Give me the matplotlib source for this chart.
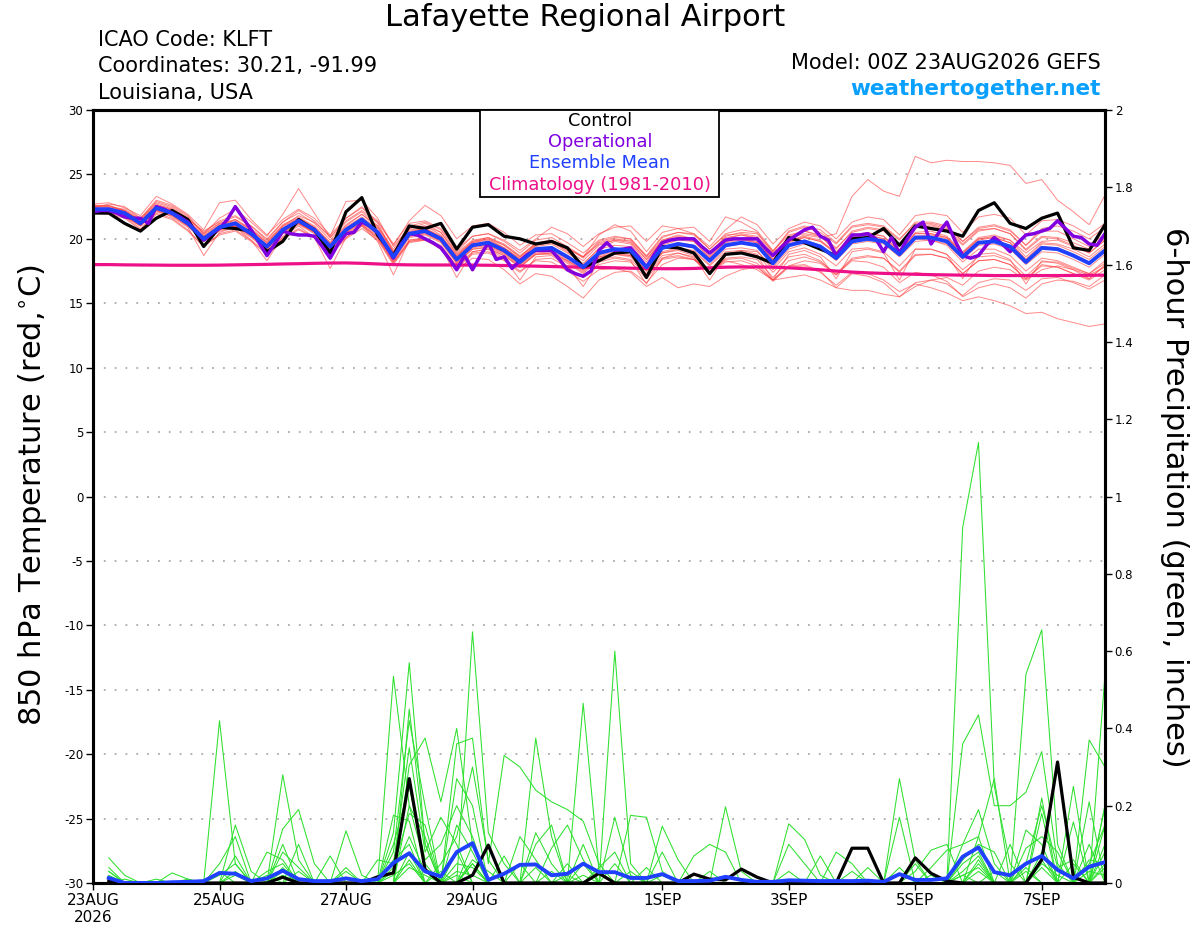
import numpy as np
import matplotlib
matplotlib.use('Agg')
import matplotlib.pyplot as plt
from matplotlib.patches import Rectangle

plt.rcParams['font.family'] = ['DejaVu Sans']
plt.rcParams['mathtext.fontset'] = 'dejavusans'

# ---------------- data ----------------
title = "Lafayette Regional Airport"
info_left = ["ICAO Code: KLFT", "Coordinates: 30.21, -91.99", "Louisiana, USA"]
model_text = "Model: 00Z 23AUG2026 GEFS"
site_text = "weathertogether.net"
legend_labels = ["Control", "Operational", "Ensemble Mean", "Climatology (1981-2010)"]

date_labels = ['23AUG\n2026', '25AUG', '27AUG', '29AUG', '1SEP', '3SEP', '5SEP', '7SEP']
date_days = [0, 2, 4, 6, 9, 11, 13, 15]
temp_ticks = [-30, -25, -20, -15, -10, -5, 0, 5, 10, 15, 20, 25, 30]
precip_ticks = [0, 0.2, 0.4, 0.6, 0.8, 1, 1.2, 1.4, 1.6, 1.8, 2]
precip_tick_labels = ['0', '0.2', '0.4', '0.6', '0.8', '1', '1.2', '1.4', '1.6', '1.8', '2']

# 850 hPa temperature, 6-hourly from 00Z 23AUG (65 values)
temp_control = [22.0,22.0,21.2,20.6,21.6,22.2,21.5,19.4,20.9,20.8,
                20.6,19.0,19.8,21.5,20.7,18.9,22.1,23.2,20.3,18.7,
                21.0,20.8,21.2,19.2,20.9,21.1,20.2,20.0,19.6,19.8,
                19.3,17.8,18.3,18.9,19.0,17.0,19.4,19.3,18.9,17.3,
                18.8,18.9,18.6,18.1,20.1,19.7,19.2,18.7,20.0,20.1,
                20.8,19.5,21.0,20.8,20.6,20.2,22.2,22.8,21.2,20.8,
                21.6,22.0,19.3,19.1,21.1]

temp_mean = [22.3,22.3,22.0,21.2,22.4,22.0,21.2,20.0,20.9,21.2,
             20.4,19.4,20.7,21.4,20.7,19.4,20.7,21.5,20.5,18.6,
             20.4,20.6,20.0,18.4,19.5,19.7,19.1,18.2,19.2,19.3,
             18.6,17.8,18.9,19.2,19.1,17.8,19.3,19.6,19.4,18.3,
             19.5,19.7,19.5,18.1,19.5,19.8,19.4,18.5,19.8,20.0,
             19.8,18.8,20.1,20.1,19.8,18.6,19.7,19.8,19.4,18.2,
             19.3,19.2,18.7,18.1,19.1]

temp_clim = [18.0,18.0,17.98,17.97,17.96,17.95,17.95,17.95,17.96,17.98,
             18.0,18.02,18.05,18.07,18.1,18.12,18.13,18.1,18.05,18.0,
             17.98,17.97,17.97,17.97,17.96,17.95,17.93,17.9,17.88,17.85,
             17.82,17.8,17.78,17.75,17.72,17.7,17.68,17.68,17.7,17.75,
             17.8,17.82,17.82,17.8,17.75,17.68,17.6,17.5,17.42,17.36,
             17.32,17.28,17.25,17.22,17.2,17.18,17.17,17.15,17.15,17.15,
             17.15,17.15,17.16,17.17,17.18]

# operational run, 3-hourly (129 values)
temp_oper = [22.1,22.2,22.2,22.0,21.7,21.6,21.6,21.2,22.5,22.3,
             22.0,21.7,21.3,20.6,19.9,20.4,20.8,21.5,22.5,21.6,
             20.7,19.7,18.7,19.6,20.6,20.4,20.3,20.3,20.2,19.4,
             18.5,19.6,20.4,20.5,21.3,21.0,20.5,19.5,18.5,19.6,
             20.4,20.3,20.0,19.7,19.3,18.5,17.6,18.7,17.6,18.7,
             19.7,18.4,18.6,17.7,18.3,18.8,19.1,19.1,19.1,18.4,
             17.6,17.3,17.1,17.5,19.1,19.7,19.1,19.2,19.3,18.6,
             17.8,18.8,19.7,19.9,20.0,20.0,20.0,19.4,18.9,19.4,
             19.9,20.0,20.0,20.0,20.0,19.3,18.7,19.3,19.9,20.3,
             20.7,20.9,20.2,19.9,18.7,19.5,20.3,20.3,20.4,20.0,
             19.0,20.1,18.9,20.0,20.9,21.3,19.6,20.5,21.3,19.9,
             18.7,18.5,18.7,19.5,20.1,19.6,19.0,19.7,20.3,20.4,
             20.6,20.8,21.4,20.8,20.2,20.1,19.6,19.5,20.4]

temp_members = [
    [22.6,22.5,22.3,21.6,22.8,22.4,21.6,20.5,21.4,21.8,21.0,19.9,21.3,22.0,21.2,19.9,21.3,22.1,21.0,19.2,21.0,21.3,20.7,19.0,20.2,20.4,19.8,18.9,19.9,20.1,19.4,18.6,19.8,20.1,20.0,18.7,20.2,20.5,20.3,19.2,20.4,20.7,20.5,19.0,20.5,20.9,20.5,19.6,20.9,21.1,20.9,19.9,21.3,21.3,21.0,19.8,20.9,21.1,20.7,19.5,20.6,20.6,20.0,19.4,20.4],
    [22.0,22.1,21.7,20.8,22.0,21.6,20.7,19.4,20.3,20.6,19.8,18.8,20.0,20.7,20.1,18.8,20.0,20.8,19.9,18.0,19.7,19.9,19.3,17.7,18.8,18.9,18.3,17.4,18.4,18.5,17.8,17.0,18.0,18.3,18.2,16.9,18.4,18.6,18.4,17.3,18.5,18.6,18.4,17.0,18.3,18.6,18.2,17.3,18.5,18.7,18.5,17.5,18.8,18.8,18.5,17.3,18.3,18.4,18.0,16.9,18.0,17.8,17.3,16.8,17.6],
    [22.4,22.7,22.5,21.6,23.0,22.6,21.8,20.4,21.6,22.3,21.3,20.2,21.9,23.9,22.0,20.1,21.6,22.5,21.2,19.0,20.8,21.2,20.5,18.8,19.8,20.0,19.3,18.5,19.5,19.8,19.0,18.0,19.3,19.8,19.6,18.2,19.9,20.3,20.0,18.7,20.0,20.3,20.0,18.4,19.8,20.2,19.9,18.9,20.3,20.5,20.2,19.0,20.5,20.6,20.2,19.0,20.1,20.3,19.9,18.6,19.7,19.6,19.2,18.6,19.6],
    [22.1,22.2,21.8,21.0,22.2,21.7,20.9,18.7,20.5,20.9,19.9,18.3,20.2,21.0,20.1,17.7,20.1,21.0,19.8,17.2,19.9,20.1,19.4,17.0,19.0,19.2,18.5,16.8,18.6,18.7,17.9,16.3,18.2,18.5,18.3,16.5,18.5,18.9,18.6,16.8,18.7,19.0,18.7,16.8,18.8,19.1,18.6,16.9,19.0,19.2,18.9,16.8,19.2,19.2,18.8,16.9,18.8,18.9,18.4,16.5,18.3,18.1,17.6,16.9,18.0],
    [22.5,22.4,22.1,21.4,22.6,22.2,21.4,20.2,21.0,21.5,20.7,19.7,21.0,21.8,21.3,20.2,22.9,23.0,21.6,19.4,20.9,21.0,20.3,18.7,19.7,19.9,19.3,18.4,19.4,19.6,18.9,18.1,19.2,19.5,19.4,18.0,19.5,19.9,19.8,18.5,19.8,20.0,19.8,18.3,19.7,20.1,19.8,18.8,20.1,20.3,20.0,19.0,20.4,20.4,20.1,18.8,19.9,20.1,19.7,18.4,19.6,19.5,19.0,18.4,19.4],
    [22.2,22.3,22.0,21.3,22.3,22.0,21.3,20.1,20.8,21.0,20.3,19.5,20.6,21.2,20.6,19.5,20.6,21.3,20.4,18.8,20.2,20.4,19.9,18.6,19.4,19.6,19.0,18.3,19.1,19.2,18.7,17.9,18.8,19.1,19.0,17.9,19.2,19.5,19.3,18.4,19.4,19.6,19.5,18.6,19.8,20.3,20.1,20.4,23.3,24.6,23.7,23.3,26.4,25.9,26.1,26.0,26.0,25.9,25.7,24.3,24.6,23.0,22.1,21.1,23.4],
    [22.3,22.2,21.9,21.1,22.3,21.9,21.0,19.8,20.7,21.0,20.2,19.2,20.5,21.2,20.5,19.2,20.5,21.2,20.2,18.3,20.1,20.3,19.7,18.1,19.2,19.3,18.7,17.8,18.8,18.8,18.1,17.3,18.4,18.6,18.4,17.2,18.5,18.7,18.4,17.3,18.2,18.3,17.9,16.7,17.8,17.9,17.4,16.4,17.4,17.3,16.8,15.9,16.5,16.2,15.8,15.2,15.5,15.2,14.8,14.2,14.3,13.8,13.5,13.2,13.4],
    [22.4,22.3,22.0,21.2,22.3,21.9,21.1,19.9,20.8,21.1,20.3,19.3,20.6,21.2,20.5,19.2,20.4,21.1,20.1,18.2,19.8,19.9,19.2,17.6,18.5,18.4,17.6,16.5,17.3,17.1,16.3,15.4,16.8,17.4,17.5,16.6,18.0,18.5,18.4,17.6,18.8,19.1,19.0,17.8,19.2,19.6,19.3,18.3,19.6,19.8,19.6,18.6,19.8,19.9,19.6,18.4,19.5,19.6,19.2,18.0,19.0,18.9,18.4,17.8,18.8],
    [22.5,22.6,22.2,21.5,22.7,22.3,21.5,20.6,21.3,21.7,21.0,20.0,21.3,22.2,21.4,20.1,21.4,22.2,21.3,19.5,21.4,22.6,21.8,20.0,21.0,21.2,20.5,19.5,20.3,20.4,19.7,18.9,19.9,20.2,20.0,18.6,19.9,20.2,20.0,18.9,20.1,20.3,20.1,18.7,20.2,20.6,20.3,19.3,20.5,20.8,20.6,19.6,20.9,21.0,20.7,19.5,20.6,20.8,20.4,19.1,20.1,20.0,19.5,18.9,19.9],
    [22.2,22.0,21.7,21.0,22.1,21.8,21.0,19.8,20.6,20.9,20.1,19.1,20.4,21.1,20.4,19.1,20.3,21.1,20.1,18.2,19.9,20.0,19.4,17.8,18.9,19.0,18.4,17.5,18.3,18.2,17.5,16.7,17.6,17.7,17.4,16.3,17.0,16.2,16.5,16.3,17.1,17.6,17.8,16.8,17.9,18.3,18.1,17.2,18.4,18.6,18.5,17.4,18.7,18.8,18.5,17.3,18.3,18.4,18.0,16.9,17.9,17.8,17.3,16.9,17.9],
    [22.3,22.4,22.1,21.3,22.5,22.1,21.3,20.1,21.0,21.3,20.5,19.5,20.8,21.5,20.8,19.5,20.8,21.6,20.6,18.7,20.5,20.7,20.1,18.5,19.6,19.8,19.3,18.4,19.5,19.7,19.1,18.3,19.5,19.9,19.9,18.6,20.1,20.5,20.4,19.4,20.7,21.7,21.1,19.6,20.8,21.3,21.0,20.0,21.3,21.7,21.5,20.3,21.8,22.0,21.8,20.5,21.7,21.9,21.6,20.3,21.4,21.5,21.0,20.3,21.2],
    [22.4,22.3,21.9,21.2,22.4,22.0,21.2,20.0,20.9,21.2,20.4,19.3,20.6,21.3,20.6,19.3,20.6,21.4,20.4,18.5,20.3,20.5,19.9,18.3,19.4,19.5,18.9,18.0,18.9,19.0,18.3,17.5,18.6,18.8,18.6,17.3,18.7,18.9,18.5,17.4,18.4,18.5,18.1,16.8,17.9,18.0,17.5,16.2,17.3,17.1,16.6,15.5,16.6,16.8,16.5,15.6,16.6,16.9,16.8,16.0,16.9,17.0,16.6,16.1,16.8],
    [22.1,22.4,22.2,21.4,22.6,22.3,21.5,20.3,21.2,21.5,20.8,19.8,21.1,21.7,21.0,19.7,21.0,21.9,21.0,19.0,20.7,20.8,20.2,18.6,19.7,20.0,19.5,18.6,19.7,19.9,19.3,18.5,19.7,20.0,19.8,18.4,19.8,20.1,19.8,18.6,19.9,20.0,19.7,18.2,19.6,19.9,19.5,18.6,19.9,20.1,19.8,18.7,20.0,19.9,19.5,18.2,19.2,19.2,18.7,17.5,18.5,18.3,17.8,17.3,18.1],
    [22.7,22.8,22.4,21.8,23.3,22.7,21.9,20.7,22.8,23.0,21.5,20.3,21.5,22.3,21.6,20.3,21.6,22.4,21.4,19.6,21.2,21.4,20.8,19.2,20.2,20.4,19.9,19.1,20.0,20.9,20.4,19.4,20.4,20.9,21.0,19.8,21.0,20.8,20.4,19.2,20.3,20.4,20.2,18.9,20.1,20.4,20.2,19.2,20.6,20.9,20.7,19.6,21.0,21.1,20.8,19.6,20.7,20.8,20.4,19.2,20.2,20.1,19.7,19.2,20.0],
    [22.0,21.9,21.6,20.7,21.9,21.5,20.6,19.4,20.4,20.7,19.9,18.9,20.1,20.8,20.1,18.9,20.1,21.0,20.0,18.1,19.8,20.0,19.5,17.9,19.0,19.2,18.7,17.8,18.8,18.9,18.2,17.4,18.5,18.8,18.7,17.5,19.0,19.3,19.1,18.0,19.2,19.3,19.1,17.6,19.0,19.3,18.8,17.9,19.2,19.3,19.0,17.9,19.2,19.2,18.8,17.6,18.6,18.7,18.3,17.1,18.2,18.2,17.7,17.3,18.3],
    [22.5,22.5,22.2,21.3,22.5,22.2,21.4,20.2,21.1,21.3,20.6,19.6,20.9,21.6,20.9,19.6,20.9,21.7,20.8,18.9,20.6,20.8,20.2,18.7,19.8,20.1,19.6,18.7,19.6,19.8,19.2,18.6,20.3,21.1,20.6,19.0,20.5,20.8,20.9,19.8,21.7,21.3,20.6,19.1,20.3,20.6,20.2,19.0,20.2,20.3,20.0,18.8,20.2,20.3,20.0,18.9,20.0,20.2,19.9,18.9,19.8,19.9,19.4,18.9,19.9],
    [22.2,22.2,21.9,21.1,22.2,21.8,21.0,19.8,20.7,21.0,20.2,19.2,20.5,21.2,20.5,19.2,20.5,21.3,20.3,18.4,20.2,20.4,19.8,18.2,19.3,19.5,18.9,18.0,19.0,19.1,18.4,17.6,18.7,19.0,18.8,17.5,18.9,19.1,18.7,17.4,18.3,18.0,17.6,16.8,17.0,17.2,16.8,16.2,16.0,16.0,15.7,15.5,16.3,16.8,17.0,16.4,17.5,17.8,17.6,16.8,17.6,17.9,17.6,17.2,17.8],
    [22.6,22.6,22.1,21.5,22.9,22.5,21.7,20.4,21.2,21.4,20.7,19.7,21.0,21.6,20.9,19.7,21.1,21.9,20.9,19.0,20.8,21.0,20.5,18.9,19.9,20.1,19.5,18.6,19.6,19.8,19.3,18.6,19.6,19.9,19.7,18.4,19.8,20.1,19.9,18.9,20.2,20.5,20.4,19.0,20.6,21.0,20.7,19.7,21.0,21.2,21.0,20.0,21.2,21.2,20.9,19.8,20.8,21.0,20.6,19.5,20.8,21.0,20.6,20.0,20.9],
    [22.3,22.1,21.8,21.0,22.2,21.9,21.1,19.9,20.9,21.3,20.5,19.4,20.8,21.5,20.8,19.4,20.8,21.5,20.5,18.6,20.3,20.5,19.8,18.1,19.2,19.4,18.8,17.9,18.8,18.9,18.3,17.6,18.6,18.9,18.7,17.6,18.9,19.2,19.0,17.9,19.0,19.1,18.8,17.4,18.6,18.8,18.3,17.2,18.3,18.2,17.8,16.6,17.4,17.2,16.7,15.5,16.2,16.5,16.2,15.4,16.5,16.8,16.7,16.3,17.2],
    [22.4,22.2,22.0,21.3,22.4,22.1,21.3,20.0,20.9,21.0,20.3,19.3,20.6,21.3,20.6,19.4,20.6,21.4,20.5,18.7,20.5,20.8,20.1,18.5,19.5,19.6,19.0,18.1,19.1,19.2,18.5,17.7,18.8,19.1,19.0,17.8,19.3,19.7,19.5,18.5,19.7,19.9,19.7,18.4,19.8,20.1,19.8,18.9,20.2,20.4,20.2,19.1,20.4,20.4,20.1,18.9,20.0,20.1,19.7,18.4,19.4,19.3,18.8,18.2,19.2],
]

# 6-hour precipitation (inches), valid 06Z 23AUG onward (64 values)
precip_control = [0.005,0,0,0,0,0,0,0,
                  0,0,0,0.015,0,0,0,0,
                  0,0.016,0.026,0.27,0.035,0,0,0.02,
                  0.098,0,0,0,0,0,0,0.025,
                  0,0,0,0,0,0.023,0.01,0.008,
                  0.036,0.015,0,0,0,0,0,0.09,
                  0.09,0,0,0.065,0.025,0.005,0,0,
                  0,0,0,0.06,0.313,0.015,0,0]

precip_mean = [0.013,0,0,0,0.002,0.003,0.005,0.026,
               0.024,0.005,0.012,0.032,0.01,0.005,0.005,0.012,
               0.005,0.01,0.052,0.077,0.03,0.017,0.08,0.103,
               0.008,0.024,0.047,0.048,0.02,0.024,0.05,0.028,
               0.028,0.013,0.013,0.023,0.005,0.005,0.006,0.016,
               0.008,0.003,0.003,0.007,0.006,0.005,0.005,0.005,
               0.006,0.003,0.023,0.008,0.008,0.012,0.068,0.092,
               0.028,0.02,0.05,0.07,0.034,0.012,0.042,0.054]

precip_members = [
    [0.065,0.02,0,0,0,0,0,0.42, 0.05,0,0,0,0,0,0,0, 0,0,0.13,0.57,0.1,0,0,0.05, 0,0,0,0,0,0,0,0,
     0.6,0.05,0,0,0,0,0,0, 0,0,0,0,0,0,0,0, 0,0,0,0,0,0,0.1,0.19, 0.05,0,0,0,0,0,0.05,0.15],
    [0.03,0,0,0,0,0,0,0, 0.15,0.03,0,0.28,0.06,0,0,0, 0,0,0.535,0.2,0.05,0,0,0.65, 0.13,0.05,0,0,0,0,0.465,0.03,
     0,0,0,0,0,0,0,0, 0,0,0,0,0,0,0,0, 0,0,0,0,0,0,0.92,1.14, 0.25,0.05,0,0,0,0,0,0.2],
    [0.04,0,0,0,0.026,0.01,0,0, 0,0,0,0.14,0.19,0.05,0,0, 0,0,0,0.305,0.375,0.21,0.4,0.1, 0,0,0,0.375,0.12,0,0,0,
     0,0.175,0.17,0.03,0,0,0,0, 0,0,0,0,0,0,0,0, 0,0,0,0,0,0,0,0, 0,0,0.54,0.655,0.1,0,0,0.54],
    [0.02,0,0,0,0,0,0,0, 0,0,0.08,0.06,0,0,0,0.135, 0.02,0,0,0.45,0.1,0,0.36,0.375, 0.05,0.33,0.3,0.24,0.21,0.19,0.16,0.05,
     0,0,0,0,0,0,0,0, 0,0,0,0,0,0,0,0, 0,0,0,0,0,0,0.36,0.435, 0.2,0.2,0.235,0.34,0.05,0,0.37,0.3],
    [0,0,0,0,0,0,0,0.05, 0.12,0,0,0,0.1,0,0.07,0, 0,0,0.175,0.16,0,0,0.27,0.2, 0,0,0,0,0,0,0,0,
     0,0,0,0.147,0.06,0,0,0.197, 0.03,0,0,0,0,0,0,0, 0,0,0.27,0.06,0,0,0,0, 0,0,0,0.22,0,0.158,0,0.1],
    [0.01,0,0,0,0,0,0,0.03, 0,0,0,0.1,0,0,0,0, 0,0.06,0.05,0.35,0.08,0.17,0.1,0, 0,0,0,0.1,0.15,0,0,0,
     0.17,0.02,0,0,0,0,0,0, 0,0,0,0.153,0.113,0.02,0,0, 0,0,0,0,0,0,0,0.12, 0.27,0,0,0.18,0,0,0.21,0],
    [0,0,0,0.01,0,0,0,0, 0.07,0,0.02,0,0,0,0,0.04, 0,0,0.08,0.42,0.2,0,0.15,0.08, 0,0,0.12,0.06,0,0,0.05,0,
     0,0,0,0,0,0.07,0.1,0.08, 0,0,0,0,0,0,0,0, 0,0,0.17,0,0.04,0.085,0.1,0.12, 0,0,0.137,0.1,0,0.25,0,0.2],
    [0.015,0,0,0,0,0,0,0, 0,0,0,0.08,0.04,0,0,0, 0,0,0.1,0.25,0.06,0.1,0.2,0.12, 0,0,0,0,0.09,0.15,0.06,0,
     0,0,0,0.08,0,0,0,0, 0,0,0,0.1,0.05,0,0.08,0.05, 0,0,0,0,0,0,0.05,0.08, 0,0,0.09,0.12,0.08,0,0,0.15],
    [0,0.01,0,0,0,0,0,0.02, 0.05,0,0,0.04,0,0,0,0.03, 0,0,0,0.2,0.12,0,0,0.06, 0.03,0,0,0,0,0.05,0,0.04,
     0.08,0,0,0,0,0,0,0, 0,0,0,0,0,0.07,0,0, 0.04,0,0,0.03,0.085,0.1,0,0.06, 0,0.1,0,0.06,0,0,0.1,0],
    [0.03,0,0,0,0,0,0,0, 0,0,0.03,0.05,0,0,0,0, 0,0,0.06,0.1,0,0.05,0.12,0.3, 0.06,0,0,0.13,0.05,0,0,0,
     0,0,0.04,0,0,0,0.03,0, 0,0,0,0,0,0,0,0, 0,0,0.04,0,0,0,0.06,0.1, 0.08,0,0.05,0.2,0.04,0.06,0,0.08],
    [0,0,0,0,0,0,0,0, 0.03,0,0,0,0.03,0,0,0, 0,0,0.04,0.18,0.15,0,0.08,0, 0,0,0.05,0,0,0,0.1,0,
     0.05,0,0,0,0,0,0,0, 0,0,0,0,0,0,0,0.03, 0,0,0,0,0,0,0.03,0.07, 0,0,0,0.08,0,0,0.06,0.05],
    [0.01,0,0,0,0,0,0,0, 0,0,0,0.02,0,0,0,0, 0,0,0,0.08,0,0.03,0,0.1, 0,0.07,0,0,0.03,0,0,0,
     0,0.03,0,0,0,0,0,0, 0,0,0,0,0,0,0,0, 0,0,0,0.05,0,0,0,0.05, 0,0,0.04,0,0,0.05,0,0.04],
    [0,0,0,0,0,0.01,0,0, 0.02,0,0,0,0,0,0,0, 0,0,0.03,0.12,0.03,0,0.05,0.04, 0,0,0,0,0,0.02,0,0,
     0,0,0,0,0,0,0,0, 0,0,0,0.03,0,0,0,0, 0,0,0,0,0,0,0.02,0.04, 0,0,0,0.05,0.02,0,0,0],
    [0,0,0,0,0,0,0,0, 0,0,0,0.03,0,0,0,0, 0,0,0,0.06,0,0,0.03,0.02, 0,0,0,0.04,0,0,0,0,
     0,0,0,0.02,0,0,0,0, 0,0,0,0,0,0,0,0, 0,0,0,0,0.02,0,0,0, 0.03,0,0,0,0,0,0.03,0.02],
    [0.005,0,0,0,0,0,0,0, 0,0,0,0,0,0,0,0, 0,0,0,0.04,0.02,0,0,0.05, 0,0,0,0,0,0,0.02,0,
     0,0,0,0,0,0,0,0, 0,0,0,0,0,0,0,0, 0,0,0,0,0,0,0,0.03, 0,0,0,0.04,0,0,0,0],
    [0,0,0,0,0,0,0,0, 0,0,0,0,0,0,0,0.01, 0,0,0.02,0.05,0,0,0.02,0, 0,0,0,0,0,0,0,0,
     0,0,0,0,0,0,0,0, 0,0,0,0,0,0,0,0, 0,0,0,0,0,0,0.02,0, 0,0,0.03,0,0,0,0,0.05],
]

# ---------------- colours ----------------
C_MEMBER_T = '#ff4040'
C_MEMBER_P = '#2ee02e'
C_CONTROL = '#000000'
C_OPER = '#8000e0'
C_MEAN = '#2040ff'
C_CLIM = '#ee1088'
C_SITE = '#0aa0ff'

# ---------------- figure ----------------
W, H = 1200, 927
fig = plt.figure(figsize=(W / 100, H / 100), dpi=100)
ax = fig.add_axes([93 / W, 1 - 883 / H, (1105 - 93) / W, (883 - 110) / H])
ax2 = ax.twinx()

def tt(n, step):
    return np.arange(n) * step

# temperature members and lines
for m in temp_members:
    ax.plot(tt(len(m), 0.25), m, color=C_MEMBER_T, lw=0.7, alpha=0.62, zorder=2)
ax.plot(tt(len(temp_clim), 0.25), temp_clim, color=C_CLIM, lw=2.3, zorder=3)
ax.plot(tt(len(temp_control), 0.25), temp_control, color=C_CONTROL, lw=2.3, zorder=4)
ax.plot(tt(len(temp_oper), 0.125), temp_oper, color=C_OPER, lw=2.5, zorder=5)
ax.plot(tt(len(temp_mean), 0.25), temp_mean, color=C_MEAN, lw=2.8, zorder=6)

# precipitation
for m in precip_members:
    ax2.plot(0.25 + tt(len(m), 0.25), m, color=C_MEMBER_P, lw=0.75, zorder=2)
ax2.plot(0.25 + tt(len(precip_control), 0.25), precip_control, color=C_CONTROL, lw=2.3, zorder=4)
ax2.plot(0.25 + tt(len(precip_mean), 0.25), precip_mean, color=C_MEAN, lw=2.8, zorder=5)

ax.set_xlim(0, 16)
ax.set_ylim(-30, 30)
ax2.set_ylim(0, 2)

ax.set_xticks(date_days)
ax.set_xticklabels(date_labels, fontsize=11, linespacing=1.15)
ax.set_yticks(temp_ticks)
ax.set_yticklabels([str(v) for v in temp_ticks], fontsize=8.5)
ax2.set_yticks(precip_ticks)
ax2.set_yticklabels(precip_tick_labels, fontsize=8.5)

for a in (ax, ax2):
    for s in a.spines.values():
        s.set_linewidth(2.2)
        s.set_color('black')
ax.tick_params(axis='both', direction='out', length=5, width=1, pad=2)
ax2.tick_params(axis='y', direction='out', length=5, width=1, pad=2)

# dotted grid at temperature ticks
for v in temp_ticks[1:-1]:
    ax.axhline(v, color='#aaaaaa', lw=1.3, ls=(0, (1, 5)), zorder=1)

# legend box
box = Rectangle((480 / W, 1 - 197 / H), (719 - 480) / W, (197 - 110) / H,
                transform=fig.transFigure, facecolor='white', edgecolor='black',
                lw=1.3, zorder=10)
fig.patches.append(box)
leg_colors = [C_CONTROL, C_OPER, C_MEAN, C_CLIM]
leg_y = [121, 142, 163, 185]
for lab, c, yy in zip(legend_labels, leg_colors, leg_y):
    fig.text(600 / W, 1 - yy / H, lab, color=c, fontsize=12.8, ha='center', va='center', zorder=11)

# header texts
fig.text(585 / W, 1 - 18 / H, title, fontsize=22, ha='center', va='center')
for s, yy in zip(info_left, [40, 66, 93]):
    fig.text(98 / W, 1 - yy / H, s, fontsize=15, ha='left', va='center')
fig.text(1101 / W, 1 - 63 / H, model_text, fontsize=15, ha='right', va='center')
fig.text(1101 / W, 1 - 89 / H, site_text, fontsize=15.5, ha='right', va='center',
         color=C_SITE, fontweight='bold')

# axis titles
fig.text(33 / W, 1 - 495 / H, r'850 hPa Temperature (red,$^{\circ}$C)', fontsize=22,
         rotation=90, ha='center', va='center')
fig.text(1175 / W, 1 - 497 / H, '6-hour Precipitation (green, inches)', fontsize=22,
         rotation=270, ha='center', va='center')

fig.savefig('out.png', dpi=100)
